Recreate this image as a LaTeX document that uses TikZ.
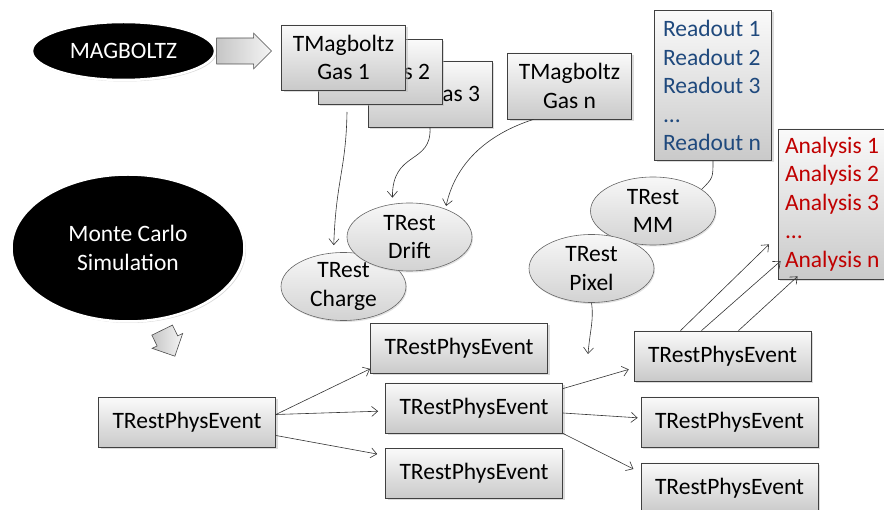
\documentclass[tikz,border=0pt]{standalone}
\usepackage{fontspec}
\setmainfont{Carlito}
\usetikzlibrary{arrows.meta,positioning,shapes.geometric,shapes.arrows,shadows}
\definecolor{readblue}{RGB}{31,73,125}
\definecolor{anared}{RGB}{192,0,0}

\begin{document}
\begin{tikzpicture}[x=1pt, y=-1pt, >={Straight Barb[length=6pt,width=10pt]},
  font=\fontsize{23.5}{28.5}\selectfont,
  box/.style={draw=black!75, line width=0.8pt, top color=gray!4, bottom color=gray!42,
    drop shadow={shadow xshift=2pt, shadow yshift=-2pt, fill=gray!55}, align=center, inner sep=0pt},
  gasbox/.style={box, minimum width=124pt, minimum height=65pt},
  evbox/.style={box, minimum width=177pt, minimum height=50pt},
  listbox/.style={box, text width=100pt, align=flush left, minimum height=150pt},
  cell/.style={ellipse, draw=black!60, line width=0.6pt, top color=gray!6, bottom color=gray!35,
    minimum width=125pt, minimum height=68pt, inner sep=0pt, align=center,
    drop shadow={shadow xshift=1pt, shadow yshift=-1.5pt, fill=gray!45}},
  blob/.style={ellipse, fill=black, draw=white, line width=2.5pt, text=white, align=center,
    inner sep=0pt, drop shadow={shadow xshift=1.5pt, shadow yshift=-1.5pt, fill=gray!60}},
  fatarrow/.style={single arrow, draw=black!70, line width=0.6pt, left color=gray!45,
    right color=gray!8, inner xsep=0pt, single arrow head extend=4pt},
  link/.style={->, black!80, line width=0.6pt}]
\useasboundingbox (0,0) rectangle (884,510);
% sources
\node[blob, minimum width=183pt, minimum height=58pt] (magboltz) at (123.5,51) {MAGBOLTZ};
\node[fatarrow, anchor=tail, minimum height=55pt, minimum width=36pt, inner ysep=10pt]
  (magarrow) at (magboltz.east) {};
\node[blob, minimum width=233pt, minimum height=147pt] (montecarlo) at (128,248) {Monte Carlo\\Simulation};
\node[fatarrow, rotate=-64, minimum height=29pt, minimum width=34pt, inner ysep=8pt]
  (mcarrow) at (166,338) {};
% gas files
\node[gasbox, text width=100pt, align=flush right, minimum height=66pt] (gas3) at (430,94) {Gas 3};
\node[gasbox, text width=100pt, align=flush right] (gas2) at (380,72) {Gas 2};
\node[gasbox] (gas1) at (343.5,57.5) {TMagboltz\\Gas 1};
\node[gasbox, minimum height=66pt] (gasn) at (569.5,86) {TMagboltz\\Gas n};
% readout and analysis lists
\node[listbox, minimum width=117pt, text=readblue] (readout) at (713,85.5)
  {Readout 1\\Readout 2\\Readout 3\\...\\Readout n};
\node[listbox, minimum width=114pt, text=anared] (analysis) at (835,204)
  {Analysis 1\\Analysis 2\\Analysis 3\\...\\Analysis n};
% processes
\node[cell] (charge) at (343.5,286.5) {TRest\\Charge};
\node[cell] (drift) at (409.5,237) {TRest\\Drift};
\node[cell] (mm) at (653,211) {TRest\\MM};
\node[cell] (pixel) at (591.5,268.5) {TRest\\Pixel};
% events
\node[evbox] (ev0) at (187,422.5) {TRestPhysEvent};
\node[evbox] (ev1) at (459,348.5) {TRestPhysEvent};
\node[evbox] (ev2) at (474,408) {TRestPhysEvent};
\node[evbox] (ev3) at (474,473.5) {TRestPhysEvent};
\node[evbox] (ev4) at (722.5,356) {TRestPhysEvent};
\node[evbox] (ev5) at (729.5,422) {TRestPhysEvent};
\node[evbox] (ev6) at (729.5,488) {TRestPhysEvent};

\coordinate (gasfoot) at (347,112);
\coordinate (pixfoot) at (588,354);
\draw[link, shorten >=7pt] (gasfoot) .. controls (346,170) and (336,180) .. ([xshift=-10pt]charge.north);
\draw[link, shorten >=5pt] (gas3.south) .. controls (432,165) and (392,150) .. ([xshift=-17pt]drift.north);
\draw[link, shorten >=3pt] ([xshift=-36pt]gasn.south) .. controls (485,135) and (455,165) .. (drift.38);
\draw[black!80, line width=0.6pt] (readout.south) .. controls (713,178) .. (mm.24);
\draw[link] (pixel.south) .. controls (594,320) and (590,330) .. (pixfoot);

\draw[link] ([yshift=8pt]ev0.east) -- ([yshift=5pt]ev1.south west);
\draw[link, shorten >=7pt] ([yshift=8pt]ev0.east) -- ([yshift=-3pt]ev2.west);
\draw[link, shorten >=8pt] ([yshift=-13pt]ev0.east) -- ([yshift=18pt]ev3.west);
\draw[link, shorten >=5pt] ([yshift=-6pt]ev2.north east) -- ([yshift=-12pt]ev4.west);
\draw[link, shorten >=3pt] ([yshift=-5pt]ev2.east) -- ([yshift=4pt]ev5.west);
\draw[link, shorten >=8pt] (ev2.south east) -- ([yshift=-10pt]ev6.north west);
\draw[link, shorten >=12pt] ([xshift=-42pt]ev4.north) -- ([yshift=-32pt]analysis.west);
\draw[link] ([xshift=-21pt]ev4.north) -- ([xshift=3pt,yshift=-57pt]analysis.west);
\draw[link] ([xshift=16pt]ev4.north) -- ([xshift=20pt,yshift=3pt]analysis.south west);
\end{tikzpicture}
\end{document}
